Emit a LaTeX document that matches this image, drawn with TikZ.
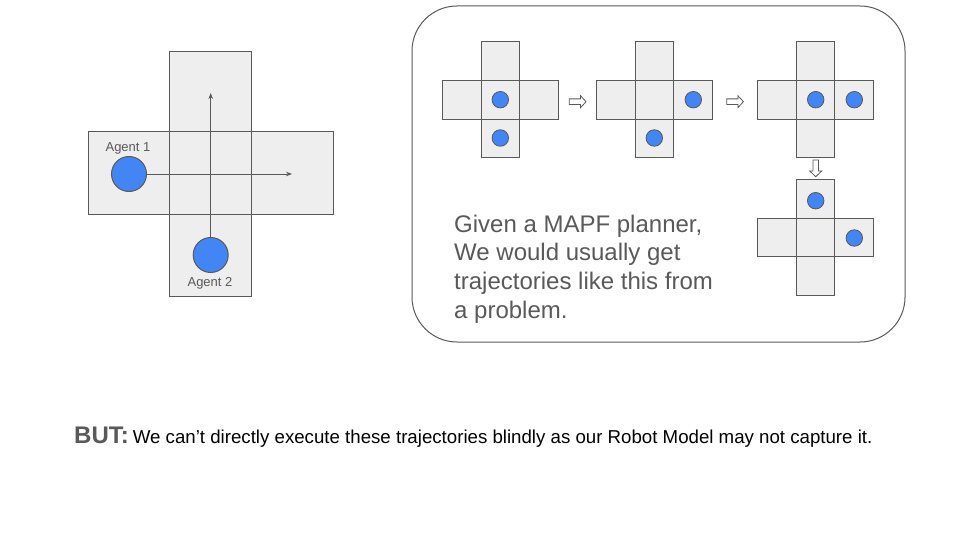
\documentclass[tikz,border=0pt]{standalone}
\usepackage{fontspec}
\setmainfont{Liberation Sans}
\usetikzlibrary{arrows.meta}
\definecolor{cellfill}{HTML}{EEEEEE}
\definecolor{lineg}{HTML}{595959}
\definecolor{agentblue}{HTML}{4285F4}
\tikzset{
  cell/.style={fill=cellfill,draw=lineg,line width=1pt},
  bigagent/.style={circle,fill=agentblue,draw=lineg,line width=1pt,minimum size=35pt,inner sep=0pt},
  smallagent/.style={circle,fill=agentblue,draw=lineg,line width=0.8pt,minimum size=16.5pt,inner sep=0pt},
  traj/.style={draw=lineg,line width=0.9pt,-{Stealth[length=6pt,width=4.5pt]}},
  stepper/.style={draw=lineg,fill=white,line width=0.8pt,line join=miter},
  lbl/.style={text=lineg,font=\fontsize{13pt}{15pt}\selectfont,inner sep=0pt}
}
% small cross: #1 = left x of horizontal bar, #2 = top y of vertical bar
\newcommand{\smallcross}[2]{%
  \path[cell] (#1,#2+38.7) rectangle (#1+116.1,#2+77.4);
  \path[cell] (#1+38.7,#2) rectangle (#1+77.4,#2+116.1);
  \draw[draw=lineg,line width=1pt] (#1,#2+38.7) rectangle (#1+116.1,#2+77.4);
}
% right block arrow: #1 = left x, #2 = centre y
\newcommand{\rightstep}[2]{%
  \path[stepper] (#1,#2-2.8) -- (#1+11.2,#2-2.8) -- (#1+11.2,#2-6) -- (#1+16.7,#2)
    -- (#1+11.2,#2+6) -- (#1+11.2,#2+2.8) -- (#1,#2+2.8) -- cycle;
}
\begin{document}
\begin{tikzpicture}[x=1pt,y=-1pt]
\useasboundingbox (0,0) rectangle (960,540);
% ---------- left cross ----------
\path[cell] (88,132) rectangle (333,214);
\path[cell] (169,52) rectangle (251.5,296);
\draw[draw=lineg,line width=1pt] (88,132) rectangle (333,214);
\node[bigagent] (a1) at (129,174) {};
\node[bigagent] (a2) at (210.7,255) {};
\coordinate (g1) at (292,174);
\coordinate (g2) at (210.7,93);
\draw[traj] (a1.east) -- (g1);
\draw[traj] (a2.north) -- (g2);
\node[lbl] (l1) at (128,148) {Agent 1};
\node[lbl] (l2) at (210,283) {Agent 2};
% ---------- rounded panel ----------
\draw[draw=lineg,line width=1pt,rounded corners=45pt] (412,6) rectangle (905,342);
% cross 1
\smallcross{442.3}{41.7}
\node[smallagent] (c1a) at (500.3,99.7) {};
\node[smallagent] (c1b) at (500.3,138) {};
% cross 2
\smallcross{596.3}{41.7}
\node[smallagent] (c2a) at (693.3,99.7) {};
\node[smallagent] (c2b) at (654.3,138) {};
% cross 3
\smallcross{757.3}{41.7}
\node[smallagent] (c3a) at (815.7,99.7) {};
\node[smallagent] (c3b) at (854.3,99.7) {};
% cross 4
\smallcross{757.3}{179.5}
\node[smallagent] (c4a) at (815.7,200.7) {};
\node[smallagent] (c4b) at (854.3,238) {};
% step arrows
\rightstep{569.3}{101.7}
\rightstep{726.7}{101.7}
\path[stepper] (812.9,160) -- (812.9,171) -- (809.7,171) -- (815.7,176.7)
    -- (821.7,171) -- (818.5,171) -- (818.5,160) -- cycle;
% paragraph
\node[anchor=north west,inner sep=0pt,align=left,text=lineg,
      font=\fontsize{24pt}{28.7pt}\selectfont] (para) at (454,214.5)
  {Given a MAPF planner,\\We would usually get\\trajectories like this from\\a problem.};
% bottom line
\node[anchor=base west,inner sep=0pt] (but) at (74,443)
  {{\fontsize{24pt}{28pt}\selectfont\bfseries\color{lineg}BUT:}\hspace{4pt}{\fontsize{18.67pt}{22pt}\selectfont We can’t directly execute these trajectories blindly as our Robot Model may not capture it.}};
\end{tikzpicture}
\end{document}
